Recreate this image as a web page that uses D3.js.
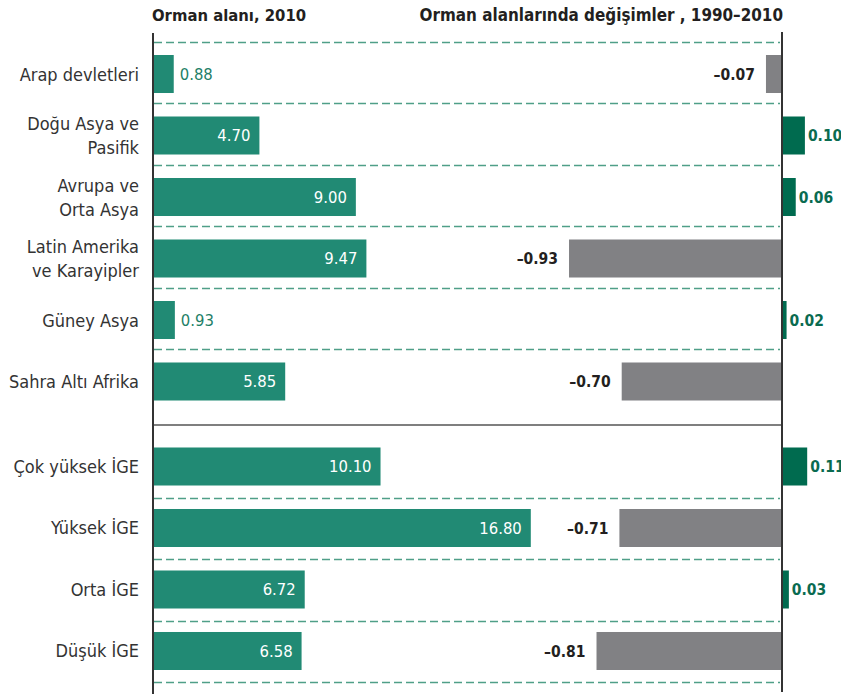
<!DOCTYPE html>
<html>
<head>
<meta charset="utf-8">
<script src="https://cdn.jsdelivr.net/npm/d3@7"></script>
<style>
  body { margin: 0; background: #fff; }
  text { font-family: "DejaVu Sans Condensed", "Liberation Sans Narrow", sans-serif; }
</style>
</head>
<body>
<svg id="chart" width="841" height="698"></svg>
<script>
// categories (line breaks as in the original labels)
const regions = ['Arap devletleri', 'Doğu Asya ve\nPasifik', 'Avrupa ve\nOrta Asya', 'Latin Amerika\nve Karayipler', 'Güney Asya', 'Sahra Altı Afrika'];
const hdiGroups = ['Çok yüksek İGE', 'Yüksek İGE', 'Orta İGE', 'Düşük İGE'];

// forest area 2010 and change 1990-2010, same order as the categories
const forestArea = [0.88, 4.70, 9.00, 9.47, 0.93, 5.85, 10.10, 16.80, 6.72, 6.58];
const forestChange = [-0.07, 0.10, 0.06, -0.93, 0.02, -0.70, 0.11, -0.71, 0.03, -0.81];

const leftTitle = 'Orman alanı, 2010';
const rightTitle = 'Orman alanlarında değişimler , 1990–2010';

const categories = regions.concat(hdiGroups);
const rows = categories.map((c, i) => ({ name: c, area: forestArea[i], change: forestChange[i], hdi: hdiGroups.includes(c) }));

const svg = d3.select('#chart');

const groupGap = 23.5;
const x1 = d3.scaleLinear().domain([0, 28]).range([154, 782]);
const x2 = d3.scaleLinear().domain([-1, 0]).range([553, 782]);
const y = d3.scaleBand().domain(categories).range([55, 646.5]).paddingInner(0.382);
const bw = y.bandwidth();
const yTop = (d) => y(d.name) + (d.hdi ? groupGap : 0);
const yMid = (d) => yTop(d) + bw / 2;

const fmt = d3.format('.2f');
const fmtSigned = (v) => (v < 0 ? '–' : '') + fmt(Math.abs(v));

// titles
svg.append('text')
    .attr('x', 152).attr('y', 21)
    .attr('font-size', 16.5).attr('font-weight', 'bold')
    .attr('fill', '#231f20')
    .text(leftTitle);
svg.append('text')
    .attr('x', 783).attr('y', 21)
    .attr('text-anchor', 'end')
    .attr('font-size', 16.9).attr('font-weight', 'bold')
    .attr('fill', '#231f20')
    .text(rightTitle);

// dashed separators
const grid = svg.append('g')
    .attr('stroke', '#4f9f88')
    .attr('stroke-width', 1.4)
    .attr('stroke-dasharray', '8,4');
grid.selectAll('line.top')
    .data(rows.filter((d) => !d.hdi))
    .join('line')
    .attr('class', 'top')
    .attr('x1', x1(0)).attr('x2', x2(0) - 2)
    .attr('y1', (d) => Math.round(yTop(d) - 13) + 0.5)
    .attr('y2', (d) => Math.round(yTop(d) - 13) + 0.5);
grid.selectAll('line.bottom')
    .data(rows.filter((d) => d.hdi))
    .join('line')
    .attr('class', 'bottom')
    .attr('x1', x1(0)).attr('x2', x2(0) - 2)
    .attr('y1', (d) => Math.round(yTop(d) + bw + 12) + 0.5)
    .attr('y2', (d) => Math.round(yTop(d) + bw + 12) + 0.5);

// solid divider between regions and HDI groups
const lastRegion = rows[regions.length - 1];
const firstHdi = rows[regions.length];
const divY = (yTop(lastRegion) + bw + yTop(firstHdi)) / 2 + 1;
svg.append('line')
    .attr('x1', x1(0)).attr('x2', x2(0))
    .attr('y1', divY).attr('y2', divY)
    .attr('stroke', '#555').attr('stroke-width', 1.5);

// left bars
svg.append('g').selectAll('rect')
    .data(rows)
    .join('rect')
    .attr('x', x1(0))
    .attr('y', yTop)
    .attr('width', (d) => x1(d.area) - x1(0))
    .attr('height', bw)
    .attr('fill', '#218a74');

svg.append('g').selectAll('text')
    .data(rows)
    .join('text')
    .attr('font-size', 16.5)
    .attr('dy', '0.36em')
    .attr('y', yMid)
    .attr('x', (d) => (x1(d.area) - x1(0) > 40 ? x1(d.area) - 9 : x1(d.area) + 6))
    .attr('text-anchor', (d) => (x1(d.area) - x1(0) > 40 ? 'end' : 'start'))
    .attr('fill', (d) => (x1(d.area) - x1(0) > 40 ? '#fff' : '#1f7f68'))
    .text((d) => fmt(d.area));

// right bars
svg.append('g').selectAll('rect')
    .data(rows)
    .join('rect')
    .attr('x', (d) => x2(Math.min(0, d.change)))
    .attr('y', yTop)
    .attr('width', (d) => Math.abs(x2(d.change) - x2(0)))
    .attr('height', bw)
    .attr('fill', (d) => (d.change < 0 ? '#818184' : '#006b4f'));

svg.append('g').selectAll('text')
    .data(rows)
    .join('text')
    .attr('font-size', 15.5)
    .attr('font-weight', 'bold')
    .attr('dy', '0.36em')
    .attr('y', yMid)
    .attr('x', (d) => (d.change < 0 ? x2(d.change) - 11 : x2(d.change) + 3))
    .attr('text-anchor', (d) => (d.change < 0 ? 'end' : 'start'))
    .attr('fill', (d) => (d.change < 0 ? '#231f20' : '#0a6b50'))
    .text((d) => fmtSigned(d.change));

// category labels
const labels = svg.append('g').selectAll('text')
    .data(rows)
    .join('text')
    .attr('font-size', 18)
    .attr('fill', '#333')
    .attr('text-anchor', 'end');
labels.each(function (d) {
    const lines = d.name.split('\n');
    const base = yMid(d) + 6.5 - (lines.length - 1) * 12;
    d3.select(this).selectAll('tspan')
        .data(lines)
        .join('tspan')
        .attr('x', 139)
        .attr('y', (l, i) => base + i * 24)
        .text((l) => l);
});

// axis lines
svg.append('line')
    .attr('x1', x1(0) - 1).attr('x2', x1(0) - 1)
    .attr('y1', 33).attr('y2', 694)
    .attr('stroke', '#333').attr('stroke-width', 2);
svg.append('line')
    .attr('x1', x2(0)).attr('x2', x2(0))
    .attr('y1', 32).attr('y2', 692)
    .attr('stroke', '#333').attr('stroke-width', 2);
</script>
</body>
</html>
